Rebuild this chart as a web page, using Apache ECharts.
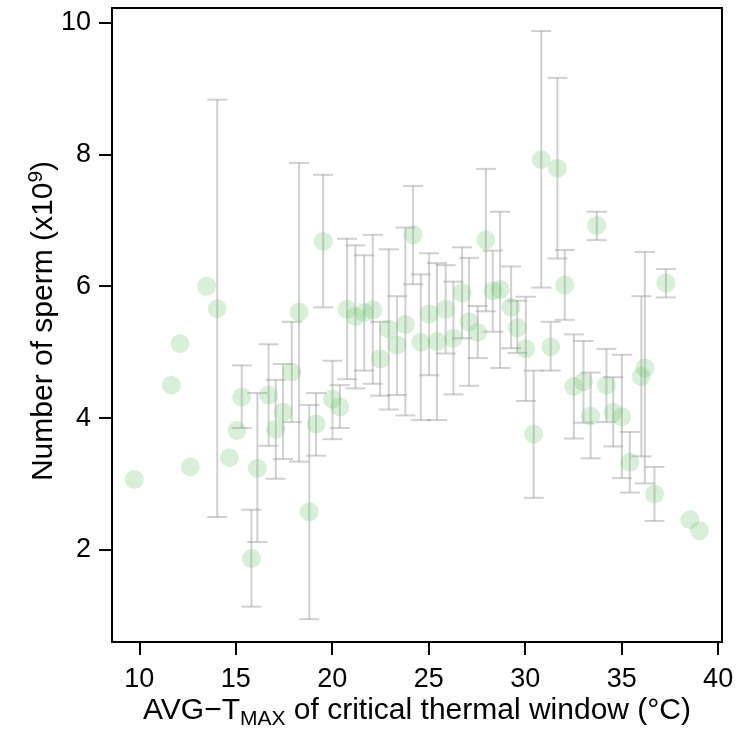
<!DOCTYPE html>
<html>
<head>
<meta charset="utf-8">
<script src="https://cdn.jsdelivr.net/npm/echarts@6/dist/echarts.min.js"></script>
<style>
  html, body { margin: 0; padding: 0; background: #fff; }
  #chart { width: 738px; height: 732px; }
</style>
</head>
<body>
<div id="chart"></div>
<script>
// AVG-TMAX of critical thermal window (°C)
const avgTmax = [9.74, 11.66, 12.11, 12.64, 13.49, 14.04, 14.67, 15.06, 15.31, 15.81,
  16.12, 16.70, 17.07, 17.45, 17.90, 18.28, 18.81, 19.16, 19.53, 20.01,
  20.39, 20.77, 21.20, 21.66, 22.10, 22.48, 22.93, 23.36, 23.79, 24.19,
  24.59, 25.02, 25.43, 25.88, 26.28, 26.73, 27.09, 27.54, 27.96, 28.32,
  28.70, 29.27, 29.59, 30.03, 30.44, 30.83, 31.32, 31.67, 32.05, 32.52,
  33.02, 33.39, 33.71, 34.21, 34.56, 35.01, 35.42, 36.02, 36.20, 36.70,
  37.29, 38.53, 39.03];
// number of sperm (x10^9)
const spermCount = [3.07, 4.50, 5.13, 3.26, 6.00, 5.66, 3.40, 3.81, 4.32, 1.87,
  3.24, 4.35, 3.83, 4.09, 4.70, 5.61, 2.58, 3.91, 6.68, 4.29,
  4.17, 5.65, 5.54, 5.60, 5.64, 4.90, 5.35, 5.11, 5.42, 6.78,
  5.15, 5.58, 5.16, 5.65, 5.21, 5.90, 5.46, 5.30, 6.70, 5.93,
  5.95, 5.68, 5.37, 5.05, 3.76, 7.92, 5.08, 7.79, 6.02, 4.48,
  4.55, 4.03, 6.92, 4.50, 4.09, 4.02, 3.33, 4.63, 4.76, 2.85,
  6.05, 2.46, 2.29];
// error bar ends (null = no bar)
const lowerBar = [null, null, null, null, null, 2.50, null, null, 3.85, 1.14,
  2.12, 3.58, 3.08, 3.38, 3.94, 3.34, 0.95, 3.43, 5.68, 3.68,
  3.85, 4.59, 4.45, 4.72, 4.52, 4.34, 4.13, 4.35, 4.04, 6.03,
  3.97, 4.65, 3.97, 4.98, 4.36, 5.21, 4.49, 4.91, 5.62, 5.31,
  4.76, 5.06, 4.99, 4.26, 2.79, 5.98, 4.72, 6.42, 5.49, 3.69,
  3.93, 3.39, 6.70, 3.94, 3.57, 3.09, 2.87, 3.42, 3.01, 2.44,
  5.83, null, null];
const upperBar = [null, null, null, null, null, 8.83, null, null, 4.80, 2.61,
  4.38, 5.12, 4.58, 4.82, 5.46, 7.87, 4.20, 4.38, 7.69, 4.87,
  4.50, 6.72, 6.62, 6.47, 6.78, 5.46, 6.56, 5.85, 6.89, 7.52,
  6.18, 6.50, 6.35, 6.32, 6.07, 6.59, 6.43, 5.70, 7.78, 6.54,
  7.13, 6.30, 5.78, 5.84, 4.72, 9.87, 5.46, 9.16, 6.55, 5.27,
  5.17, 4.69, 7.13, 5.05, 4.62, 4.96, 3.79, 5.85, 6.52, 3.26,
  6.26, null, null];
const xTicks = [10, 15, 20, 25, 30, 35, 40];
const yTicks = [2, 4, 6, 8, 10];

const FONT = '"Liberation Sans", Arial, Helvetica, sans-serif';

const chart = echarts.init(document.getElementById('chart'));

const points = avgTmax.map((x, i) => [x, spermCount[i]]);
const bars = [];
avgTmax.forEach((x, i) => {
  if (lowerBar[i] != null) bars.push([x, lowerBar[i], upperBar[i]]);
});

// error bars: vertical line + two caps
function renderBar(params, api) {
  const lo = api.coord([api.value(0), api.value(1)]);
  const hi = api.coord([api.value(0), api.value(2)]);
  const w = 10;
  const style = { stroke: 'rgba(150,150,150,0.45)', lineWidth: 2 };
  return {
    type: 'group',
    children: [
      { type: 'line', shape: { x1: lo[0], y1: lo[1], x2: hi[0], y2: hi[1] }, style },
      { type: 'line', shape: { x1: lo[0] - w, y1: lo[1], x2: lo[0] + w, y2: lo[1] }, style },
      { type: 'line', shape: { x1: hi[0] - w, y1: hi[1], x2: hi[0] + w, y2: hi[1] }, style }
    ]
  };
}

const option = {
  backgroundColor: '#fff',
  animation: false,
  grid: {
    left: 112, right: 16, top: 8, bottom: 90,
    show: true, borderColor: '#000', borderWidth: 2, backgroundColor: 'transparent'
  },
  xAxis: {
    type: 'value', min: 8.585, max: 40.2,
    axisLine: { show: false },
    splitLine: { show: false },
    axisTick: { show: true, length: 13, customValues: xTicks, lineStyle: { color: '#000', width: 2 } },
    axisLabel: { customValues: xTicks, color: '#000', fontSize: 27, fontFamily: FONT, margin: 24 }
  },
  yAxis: {
    type: 'value', min: 0.604, max: 10.22,
    axisLine: { show: false },
    splitLine: { show: false },
    axisTick: { show: true, length: 13, customValues: yTicks, lineStyle: { color: '#000', width: 2 } },
    axisLabel: { customValues: yTicks, color: '#000', fontSize: 27, fontFamily: FONT, margin: 21 }
  },
  series: [
    {
      type: 'custom',
      renderItem: renderBar,
      encode: { x: 0, y: [1, 2] },
      data: bars,
      z: 2
    },
    {
      type: 'scatter',
      data: points,
      symbol: 'circle',
      symbolSize: 19,
      itemStyle: { color: 'rgba(110,195,110,0.32)' },
      z: 3
    }
  ],
  graphic: [
    {
      type: 'text',
      x: 417, y: 711,
      style: {
        text: '{a|AVG\u2212T}{b|MAX}{a| of critical thermal window (°C)}',
        align: 'center', verticalAlign: 'middle',
        fill: '#000',
        rich: {
          a: { fontSize: 30, fontFamily: FONT, fill: '#000', lineHeight: 34 },
          b: { fontSize: 21, fontFamily: FONT, fill: '#000', lineHeight: 34, padding: [16, 0, 0, 0] }
        }
      }
    },
    {
      type: 'text',
      x: 44, y: 321,
      rotation: Math.PI / 2,
      style: {
        text: '{a|Number of sperm (x10}{b|9}{a|)}',
        align: 'center', verticalAlign: 'middle',
        fill: '#000',
        rich: {
          a: { fontSize: 30, fontFamily: FONT, fill: '#000', lineHeight: 34 },
          b: { fontSize: 21, fontFamily: FONT, fill: '#000', lineHeight: 34, padding: [0, 0, 16, 0] }
        }
      }
    }
  ]
};

chart.setOption(option);
</script>
</body>
</html>
